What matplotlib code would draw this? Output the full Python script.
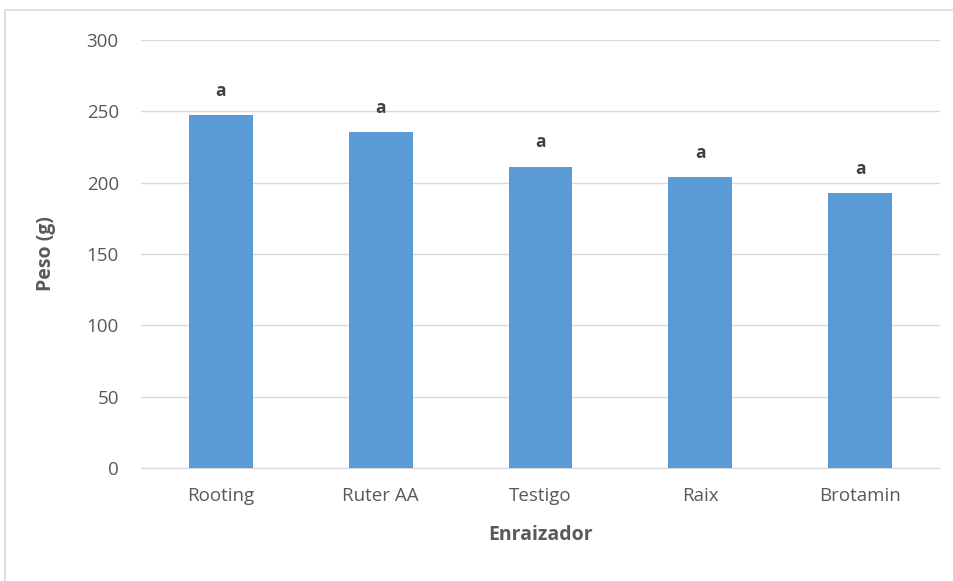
import matplotlib
matplotlib.use("Agg")
import matplotlib.pyplot as plt
from matplotlib.patches import Rectangle

categories = ["Rooting", "Ruter AA", "Testigo", "Raix", "Brotamin"]
values = [247.4, 235.6, 211.3, 204.0, 192.6]
letters = ["a", "a", "a", "a", "a"]
yticks = [0, 50, 100, 150, 200, 250, 300]

plt.rcParams['font.family'] = ['Open Sans', 'DejaVu Sans']
W, H = 954, 581
fig = plt.figure(figsize=(W/100, H/100), dpi=100)
fig.patches.append(Rectangle((5/W, -0.1), 1.2, 1 - 10/H + 0.1, transform=fig.transFigure,
                             fill=False, edgecolor='#d9d9d9', linewidth=1.2))
ax = fig.add_axes([141/W, 1 - 468/H, (940-141)/W, (468-40)/H])
x = range(len(categories))
bars = ax.bar(x, values, width=0.4, color='#5b9bd5', zorder=3)
for xi, v, l in zip(x, values, letters):
    ax.annotate(l, (xi, v), xytext=(0, 11), textcoords='offset points', ha='center', va='bottom',
                fontsize=12.5, fontweight='bold', color='#404040')
ax.set_xlim(-0.5, 4.5)
ax.set_ylim(0, 300)
ax.set_yticks(yticks)
ax.set_xticks(list(x))
ax.set_xticklabels(categories)
ax.grid(axis='y', color='#d9d9d9', linewidth=1, zorder=0)
for s in ['top', 'right', 'left']:
    ax.spines[s].set_visible(False)
ax.spines['bottom'].set_color('#d9d9d9')
ax.tick_params(axis='both', length=0, labelsize=13.5, colors='#595959')
ax.tick_params(axis='x', pad=14)
ax.tick_params(axis='y', pad=16)
ax.set_xlabel('Enraizador', fontsize=14, fontweight='bold', color='#595959', labelpad=14)
ax.set_ylabel('Peso (g)', fontsize=14, fontweight='bold', color='#595959', labelpad=22)
fig.savefig('out.png', dpi=100)
